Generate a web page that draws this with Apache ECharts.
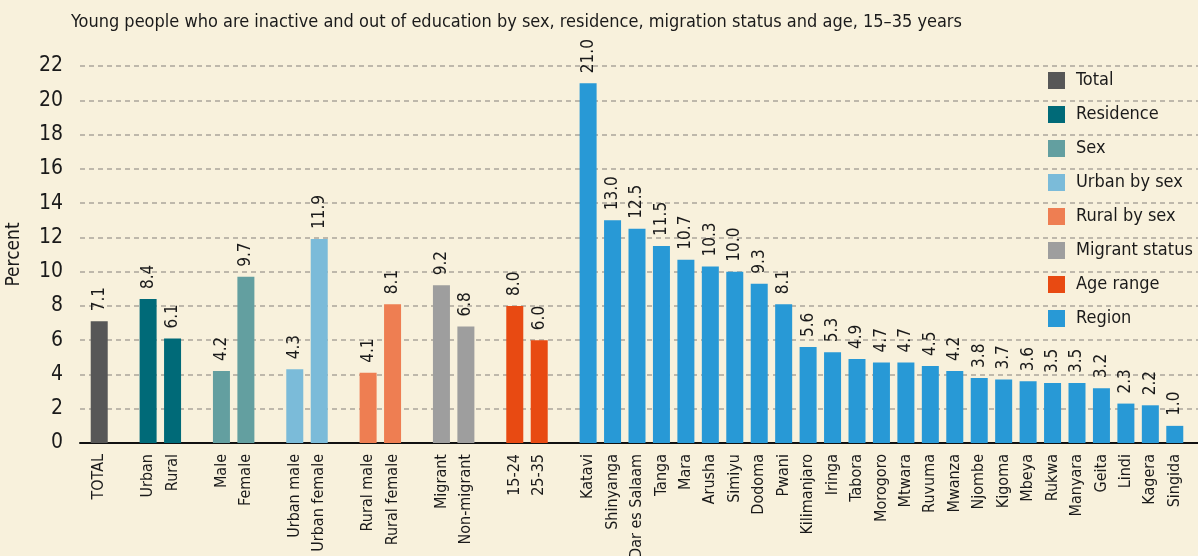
<!DOCTYPE html>
<html>
<head>
<meta charset="utf-8">
<script src="https://cdn.jsdelivr.net/npm/echarts@6/dist/echarts.min.js"></script>
<style>
html,body{margin:0;padding:0;background:#f8f1dc;}
#c{width:1198px;height:556px;}
</style>
</head>
<body>
<div id="c"></div>
<script>
// ---- data ----
const titleText = 'Young people who are inactive and out of education by sex, residence, migration status and age, 15\u201335 years';
const yTicks = [0, 2, 4, 6, 8, 10, 12, 14, 16, 18, 20, 22];

const totalCats = ['TOTAL'];
const totalVals = [7.1];
const residenceCats = ['Urban', 'Rural'];
const residenceVals = [8.4, 6.1];
const sexCats = ['Male', 'Female'];
const sexVals = [4.2, 9.7];
const urbanSexCats = ['Urban male', 'Urban female'];
const urbanSexVals = [4.3, 11.9];
const ruralSexCats = ['Rural male', 'Rural female'];
const ruralSexVals = [4.1, 8.1];
const migrantCats = ['Migrant', 'Non-migrant'];
const migrantVals = [9.2, 6.8];
const ageCats = ['15-24', '25-35'];
const ageVals = [8.0, 6.0];
const regionCats = ['Katavi', 'Shinyanga', 'Dar es Salaam', 'Tanga', 'Mara', 'Arusha', 'Simiyu', 'Dodoma', 'Pwani',
  'Kilimanjaro', 'Iringa', 'Tabora', 'Morogoro', 'Mtwara', 'Ruvuma', 'Mwanza', 'Njombe', 'Kigoma', 'Mbeya',
  'Rukwa', 'Manyara', 'Geita', 'Lindi', 'Kagera', 'Singida'];
const regionVals = [21.0, 13.0, 12.5, 11.5, 10.7, 10.3, 10.0, 9.3, 8.1,
  5.6, 5.3, 4.9, 4.7, 4.7, 4.5, 4.2, 3.8, 3.7, 3.6,
  3.5, 3.5, 3.2, 2.3, 2.2, 1.0];

const groups = [
  { name: 'Total', cats: totalCats, vals: totalVals, color: '#575757' },
  { name: 'Residence', cats: residenceCats, vals: residenceVals, color: '#006a78' },
  { name: 'Sex', cats: sexCats, vals: sexVals, color: '#639fa0' },
  { name: 'Urban by sex', cats: urbanSexCats, vals: urbanSexVals, color: '#7bbbd9' },
  { name: 'Rural by sex', cats: ruralSexCats, vals: ruralSexVals, color: '#ee7e52' },
  { name: 'Migrant status', cats: migrantCats, vals: migrantVals, color: '#9e9e9e' },
  { name: 'Age range', cats: ageCats, vals: ageVals, color: '#e84a12' },
  { name: 'Region', cats: regionCats, vals: regionVals, color: '#2899d6' }
];

// ---- build category list with one spacer slot between groups ----
const allCats = [];
const seriesData = groups.map(() => []);
groups.forEach((g, gi) => {
  g.cats.forEach((c, ci) => {
    allCats.push(c);
    groups.forEach((_, k) => seriesData[k].push(k === gi ? g.vals[ci] : null));
  });
  if (gi < groups.length - 1) {
    allCats.push('');
    groups.forEach((_, k) => seriesData[k].push(null));
  }
});

const FONT = '"Liberation Sans Narrow", "DejaVu Sans Condensed", "Open Sans", sans-serif';
const TXT = '#1a1a1a';

const valueLabel = {
  show: true,
  position: 'top',
  rotate: 90,
  align: 'left',
  verticalAlign: 'middle',
  distance: 10,
  fontFamily: FONT,
  fontSize: 17,
  color: TXT,
  formatter: p => (p.value == null ? '' : Number(p.value).toFixed(1))
};

const gridTop = 66, gridBottom = 113;

const series = groups.map((g, i) => ({
  name: g.name,
  type: 'bar',
  xAxisIndex: 1,
  yAxisIndex: 1,
  data: seriesData[i],
  barWidth: 17,
  barGap: '-100%',
  itemStyle: { color: g.color },
  label: valueLabel
}));

const option = {
  backgroundColor: '#f8f1dc',
  animation: false,
  title: {
    text: titleText,
    left: 71,
    top: 13,
    padding: 0,
    textStyle: { fontFamily: FONT, fontSize: 18, fontWeight: 'normal', color: TXT }
  },
  legend: {
    orient: 'vertical',
    left: 1048,
    top: 71.5,
    padding: 0,
    itemWidth: 17,
    itemHeight: 17,
    itemGap: 16,
    icon: 'rect',
    textStyle: { fontFamily: FONT, fontSize: 18, lineHeight: 17, color: TXT, padding: [0, 0, 0, 6] },
    data: groups.map(g => g.name)
  },
  grid: [
    { left: 80, right: 0, top: gridTop, bottom: gridBottom, outerBoundsMode: 'none', containLabel: false },
    { left: 87, width: 1100, top: gridTop, bottom: gridBottom, outerBoundsMode: 'none', containLabel: false }
  ],
  xAxis: [
    {
      gridIndex: 0, type: 'value', min: 0, max: 1,
      axisLabel: { show: false }, axisTick: { show: false }, splitLine: { show: false },
      axisLine: { show: true, lineStyle: { color: '#111', width: 2 } }
    },
    {
      gridIndex: 1,
      type: 'category',
      data: allCats,
      axisLine: { show: false },
      axisTick: { show: false },
      axisLabel: { interval: 0, rotate: 90, margin: 11, fontFamily: FONT, fontSize: 16, color: TXT }
    }
  ],
  yAxis: [
    {
      gridIndex: 0, type: 'value', min: yTicks[0], max: yTicks[yTicks.length - 1], interval: 2,
      name: 'Percent', nameLocation: 'middle', nameRotate: 90, nameGap: 56,
      nameTextStyle: { fontFamily: FONT, fontSize: 19, color: TXT },
      axisLine: { show: false }, axisTick: { show: false },
      axisLabel: { margin: 17, fontFamily: FONT, fontSize: 21, color: TXT },
      splitLine: { show: true, lineStyle: { color: '#aaa59a', type: [5, 4], width: 1.5 } }
    },
    { gridIndex: 1, type: 'value', min: 0, max: 22, interval: 2, show: false, splitLine: { show: false } }
  ],
  series: series
};

const chart = echarts.init(document.getElementById('c'), null, { renderer: 'canvas' });
chart.setOption(option);
</script>
</body>
</html>
